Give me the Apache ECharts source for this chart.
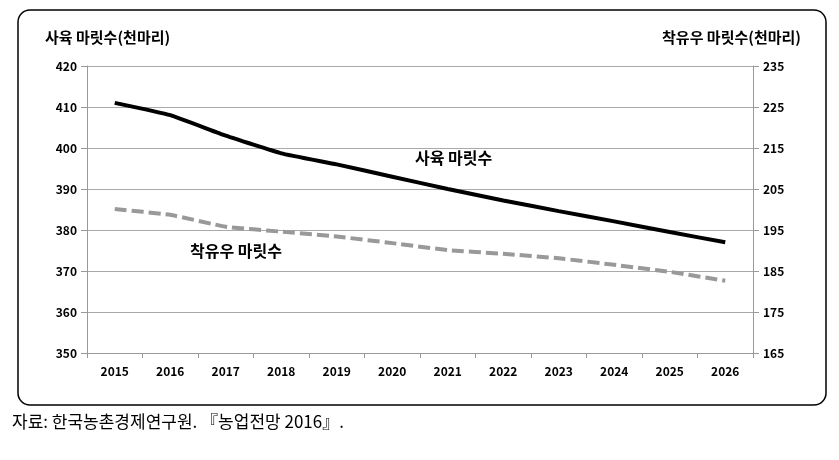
<!DOCTYPE html>
<html><head><meta charset="utf-8">
<script src="https://cdn.jsdelivr.net/npm/echarts@6/dist/echarts.min.js"></script>
<style>html,body{margin:0;padding:0;background:#fff}#c{width:839px;height:460px}</style>
</head><body><div id="c"></div>
<script>
const years = ['2015','2016','2017','2018','2019','2020','2021','2022','2023','2024','2025','2026'];
const beefHerd = [411, 408, 403, 398.7, 396, 393, 390, 387.2, 384.6, 382.1, 379.5, 377];
const dairyCows = [200.1, 198.7, 195.8, 194.6, 193.4, 191.8, 190.1, 189.2, 188.1, 186.5, 184.8, 182.6];
const leftAxisName = '사육 마릿수(천마리)';
const rightAxisName = '착유우 마릿수(천마리)';
const caption = '자료: 한국농촌경제연구원. 『농업전망 2016』.';
const FONT = '"Noto Sans CJK KR", sans-serif';
const chart = echarts.init(document.getElementById('c'));
chart.setOption({
  animation: false,
  grid: {left: 87, right: 86, top: 66, bottom: 107},
  xAxis: {
    type: 'category', data: years, boundaryGap: true,
    axisLine: {lineStyle: {color: '#999', width: 1}},
    axisTick: {show: true, length: 5, lineStyle: {color: '#999'}},
    axisLabel: {color: '#000', fontFamily: FONT, fontWeight: 'bold', fontSize: 12, margin: 12}
  },
  yAxis: [
    {type: 'value', min: 350, max: 420, interval: 10,
     axisLine: {show: true, lineStyle: {color: '#999'}},
     axisTick: {show: true, length: 6, lineStyle: {color: '#999'}},
     splitLine: {lineStyle: {color: '#aaa', width: 1}},
     axisLabel: {color: '#000', fontFamily: FONT, fontWeight: 'bold', fontSize: 12, margin: 10}},
    {type: 'value', min: 165, max: 235, interval: 10, position: 'right',
     axisLine: {show: true, lineStyle: {color: '#999'}},
     axisTick: {show: true, length: 6, lineStyle: {color: '#999'}},
     splitLine: {show: false},
     axisLabel: {color: '#000', fontFamily: FONT, fontWeight: 'bold', fontSize: 12, margin: 10}}
  ],
  series: [
    {type: 'line', data: beefHerd, yAxisIndex: 0, symbol: 'none', smooth: 0.12,
     lineStyle: {color: '#000', width: 4}},
    {type: 'line', data: dairyCows, yAxisIndex: 1, symbol: 'none', smooth: 0.12,
     lineStyle: {color: '#999', width: 4, type: [12, 5]}}
  ],
  graphic: [
    {type: 'rect', shape: {x: 18, y: 10, width: 808, height: 395, r: 12}, style: {fill: 'none', stroke: '#000', lineWidth: 1.5}, silent: true},
    {type: 'text', left: 45, top: 30, style: {text: leftAxisName, font: 'bold 15px ' + FONT, fill: '#000'}},
    {type: 'text', right: 38, top: 30, style: {text: rightAxisName, font: 'bold 15px ' + FONT, fill: '#000'}},
    {type: 'text', left: 415, top: 150, style: {text: '사육 마릿수', font: 'bold 16px ' + FONT, fill: '#000'}},
    {type: 'text', left: 190, top: 243, style: {text: '착유우 마릿수', font: 'bold 16px ' + FONT, fill: '#000'}},
    {type: 'text', left: 12, top: 413, style: {text: caption, font: '17px ' + FONT, fill: '#000'}}
  ]
});
</script></body></html>
